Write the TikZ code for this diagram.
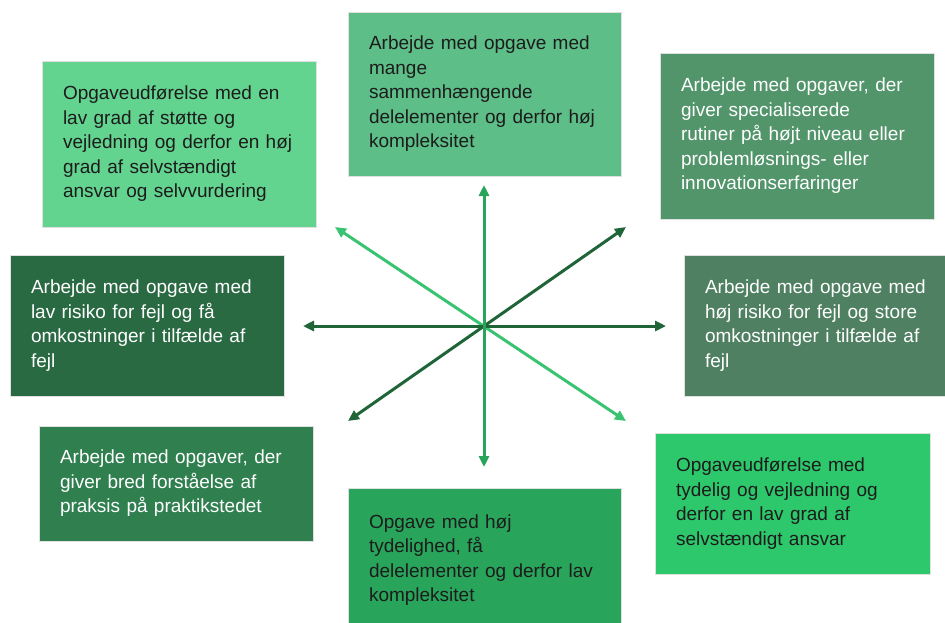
\documentclass[tikz,border=0pt]{standalone}
\usepackage{fontspec}
\setmainfont{Liberation Sans}
\usepackage{xcolor}
\usepackage{tikz}
\usetikzlibrary{arrows.meta}
\definecolor{grn-mint}{HTML}{63D48F}
\definecolor{grn-sage}{HTML}{5DBE88}
\definecolor{grn-moss}{HTML}{52956B}
\definecolor{grn-forest}{HTML}{296A43}
\definecolor{grn-slate}{HTML}{4F8062}
\definecolor{grn-pine}{HTML}{2F7F4F}
\definecolor{grn-leaf}{HTML}{29A55B}
\definecolor{grn-lime}{HTML}{2EC86C}
\definecolor{grn-dark}{HTML}{1F6537}
\definecolor{grn-light}{HTML}{3AC472}
\definecolor{ink}{HTML}{1C1C1C}

\begin{document}
\begin{tikzpicture}[x=1pt, y=-1pt]

    \useasboundingbox (0,0) rectangle (945,622);

    % boxes
    \begin{scope}[every node/.style={rectangle, draw=black!12, line width=0.6pt,
                  inner xsep=21pt, inner ysep=0pt, align=left,
                  font=\fontsize{19}{24.5}\selectfont}]
        \node[fill=grn-sage, text=ink, text width=231pt, minimum height=164pt] (top) at (484.5,94)
            {Arbejde med opgave med\\mange\\sammenhængende\\delelementer og derfor høj\\kompleksitet};
        \node[fill=grn-mint, text=ink, text width=232pt, minimum height=166pt] (topleft) at (179,144)
            {Opgaveudførelse med en\\lav grad af støtte og\\vejledning og derfor en høj\\grad af selvstændigt\\ansvar og selvvurdering};
        \node[fill=grn-moss, text=white, text width=232pt, minimum height=166pt] (topright) at (797,136)
            {Arbejde med opgaver, der\\giver specialiserede\\rutiner på højt niveau eller\\problemløsnings- eller\\innovationserfaringer};
        \node[fill=grn-forest, text=white, text width=232pt, minimum height=141pt] (left) at (147,325.5)
            {Arbejde med opgave med\\lav risiko for fejl og få\\omkostninger i tilfælde af\\fejl};
        \node[fill=grn-slate, text=white, text width=232pt, minimum height=141pt] (right) at (821,325.5)
            {Arbejde med opgave med\\høj risiko for fejl og store\\omkostninger i tilfælde af\\fejl};
        \node[fill=grn-pine, text=white, text width=232pt, minimum height=115pt] (botleft) at (176,483.5)
            {Arbejde med opgaver, der\\giver bred forståelse af\\praksis på praktikstedet};
        \node[fill=grn-leaf, text=ink, text width=231pt, minimum height=144pt] (bottom) at (484.5,560)
            {Opgave med høj\\tydelighed, få\\delelementer og derfor lav\\kompleksitet};
        \node[fill=grn-lime, text=ink, text width=233pt, minimum height=141pt] (botright) at (792.5,503.5)
            {Opgaveudførelse med\\tydelig og vejledning og\\derfor en lav grad af\\selvstændigt ansvar};
    \end{scope}

    % arrow ends
    \coordinate (up) at (484,185);
    \coordinate (down) at (484,467);
    \coordinate (west) at (303,326);
    \coordinate (east) at (666,326);
    \coordinate (nw) at (335,227);
    \coordinate (se) at (626,421);
    \coordinate (ne) at (626,227);
    \coordinate (sw) at (348,421);

    % arrows
    \begin{scope}[line width=3pt, {Triangle[length=11pt, width=10pt]}-{Triangle[length=11pt, width=10pt]}]
        \draw[color=grn-light] (nw) -- (se);
        \draw[color=grn-dark] (sw) -- (ne);
        \draw[color=grn-dark] (west) -- (east);
        \draw[color=grn-leaf] (up) -- (down);
    \end{scope}

\end{tikzpicture}
\end{document}
